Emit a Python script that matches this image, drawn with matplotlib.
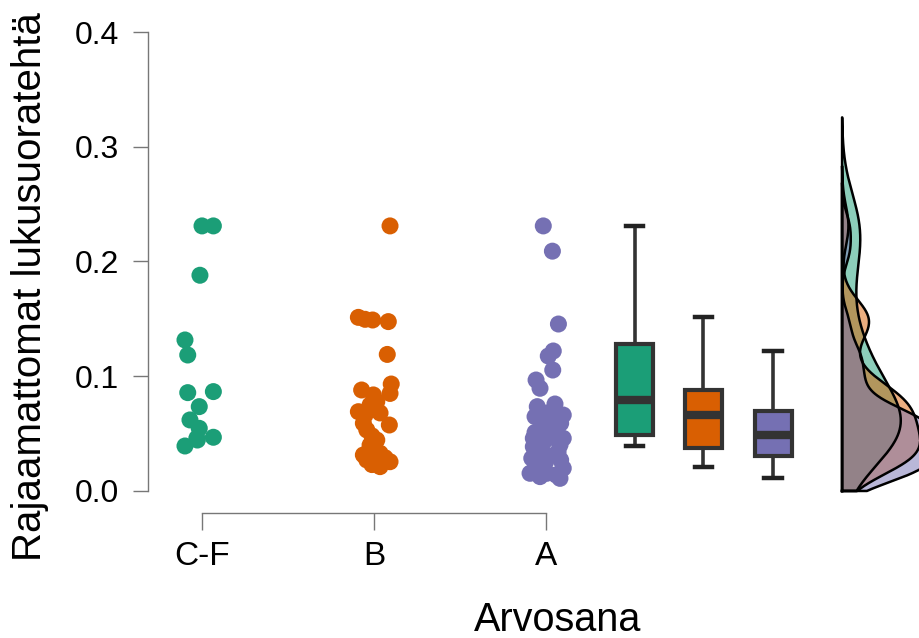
import numpy as np
import matplotlib
matplotlib.use("Agg")
import matplotlib.pyplot as plt

plt.rcParams['font.family'] = ['Liberation Sans', 'DejaVu Sans']

# ---------------- data ----------------
categories = ["C-F", "B", "A"]
colors = ["#1B9E77", "#D95F02", "#7570B3"]

values_cf = [0.231, 0.231, 0.188, 0.1316, 0.1185, 0.0866, 0.0857, 0.0735,
             0.0619, 0.0546, 0.0468, 0.046, 0.0444, 0.0392]
jitter_cf = [0.0, 0.066, -0.012, -0.099, -0.083, 0.066, -0.083, -0.016,
             -0.07, -0.016, 0.066, -0.03, -0.027, -0.099]

values_b = [0.231, 0.1513, 0.1496, 0.149, 0.1476, 0.119, 0.0932, 0.088,
            0.0850, 0.0837, 0.0778, 0.075, 0.0691, 0.068, 0.0662, 0.059,
            0.0575, 0.0532, 0.048, 0.0444, 0.040, 0.0372, 0.0329, 0.0314,
            0.029, 0.027, 0.0255, 0.023, 0.0212]
jitter_b = [0.093, -0.091, -0.052, -0.008, 0.083, 0.077, 0.1, -0.072,
            0.093, -0.004, 0.016, -0.023, -0.091, 0.035, -0.052, -0.062,
            0.089, -0.042, -0.012, 0.016, -0.023, -0.004, 0.035, -0.062,
            0.064, -0.042, 0.093, -0.012, 0.035]

values_a = [0.231, 0.209, 0.1455, 0.122, 0.1176, 0.1054, 0.0967, 0.0895,
            0.0758, 0.0735, 0.068, 0.0662, 0.0648, 0.0648, 0.062, 0.059,
            0.056, 0.0532, 0.051, 0.0495, 0.048, 0.0459, 0.0459, 0.044,
            0.0401, 0.0386, 0.036, 0.034, 0.032, 0.031, 0.0285, 0.027,
            0.024, 0.0198, 0.018, 0.0154, 0.0154, 0.014, 0.0125, 0.011]
jitter_a = [-0.016, 0.037, 0.072, 0.042, 0.013, 0.039, -0.058, -0.035,
            0.052, -0.051, 0.01, 0.1, -0.064, 0.004, -0.035, 0.085,
            0.023, -0.016, -0.064, 0.052, 0.052, -0.074, 0.1, -0.006,
            0.081, -0.074, -0.035, 0.07, -0.064, 0.01, -0.083, 0.085,
            -0.006, 0.1, -0.07, -0.093, 0.004, 0.058, -0.035, 0.081]

groups = [values_cf, values_b, values_a]
jitters = [jitter_cf, jitter_b, jitter_a]

y_ticks = [0.0, 0.1, 0.2, 0.3, 0.4]
y_ticklabels = ["0.0", "0.1", "0.2", "0.3", "0.4"]

# ---------------- figure ----------------
W, H = 920, 638
fig = plt.figure(figsize=(W / 100, H / 100), dpi=100)
ax = fig.add_axes([148 / W, (H - 513) / H, 1 - 148 / W, (513 - 32) / H])
ax.set_xlim(-0.314, 4.174)
ax.set_ylim(-0.0192, 0.4)

# jittered points
for i, (vals, jit) in enumerate(zip(groups, jitters)):
    xs = i + np.asarray(jit)
    ax.scatter(xs, vals, s=150, color=colors[i], edgecolors='none', zorder=3)

# boxplots
box_pos = [2.515, 2.915, 3.32]
bp = ax.boxplot(groups, positions=box_pos, widths=0.215, patch_artist=True,
                showfliers=False, manage_ticks=False, capwidths=0.1,
                boxprops=dict(linewidth=3.0, edgecolor="#333333"),
                whiskerprops=dict(linewidth=2.6, color="#333333"),
                capprops=dict(linewidth=3.2, color="#222222"),
                medianprops=dict(linewidth=6, color="#333333", solid_capstyle='butt'))
for patch, c in zip(bp['boxes'], colors):
    patch.set_facecolor(c)
for ln in bp['medians']:
    xd = ln.get_xdata()
    ln.set_xdata([xd[0] + 0.01, xd[1] - 0.01])

# half densities (R bw.nrd0, cut = 3, truncated at 0)
base_x = 3.721
dens_scale = 0.0467
for i, vals in enumerate(groups):
    v = np.asarray(vals)
    n = len(v)
    sd = v.std(ddof=1)
    iqr = np.quantile(v, 0.75) - np.quantile(v, 0.25)
    bw = 0.9 * min(sd, iqr / 1.34) * n ** (-0.2)
    lo = max(0.0, v.min() - 3 * bw)
    hi = v.max() + 3 * bw
    yy = np.linspace(lo, hi, 512)
    d = np.exp(-0.5 * ((yy[:, None] - v[None, :]) / bw) ** 2).sum(axis=1) / (n * bw * np.sqrt(2 * np.pi))
    xx = base_x + d * dens_scale
    ax.fill_betweenx(yy, base_x, xx, color=colors[i], alpha=0.5, linewidth=0, zorder=2)
    px = np.concatenate([[base_x], xx, [base_x], [base_x]])
    py = np.concatenate([[yy[0]], yy, [yy[-1]], [yy[0]]])
    ax.plot(px, py, color="black", linewidth=1.8, zorder=2.5, solid_joinstyle='round')

# axes styling
for sp in ['top', 'right']:
    ax.spines[sp].set_visible(False)
ax.spines['left'].set_bounds(0, 0.4)
ax.spines['bottom'].set_bounds(0, 2)
for sp in ['left', 'bottom']:
    ax.spines[sp].set_color("#777777")
    ax.spines[sp].set_linewidth(1.0)

ax.set_yticks(y_ticks)
ax.set_yticklabels(y_ticklabels, fontsize=23)
ax.set_xticks([0, 1, 2])
ax.set_xticklabels(categories, fontsize=24)
ax.tick_params(axis='y', length=10.8, width=1.0, color="#777777", pad=10)
ax.tick_params(axis='x', length=12, width=1.0, color="#777777", pad=8)

fig.text(30 / W, 1 - 287 / H, "Rajaamattomat lukusuoratehtä", rotation=90,
         ha='center', va='center', fontsize=29)
fig.text(558 / W, 1 - 620 / H, "Arvosana", ha='center', va='center', fontsize=28.5)

fig.savefig("out.png", dpi=100)
